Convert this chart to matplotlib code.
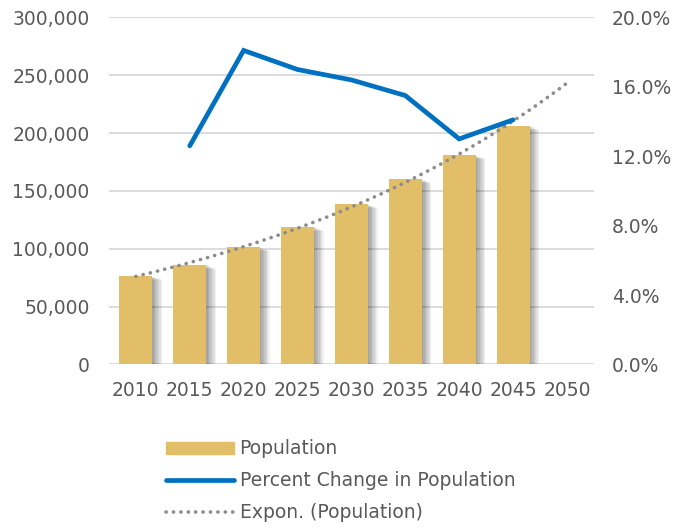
import numpy as np
import matplotlib.pyplot as plt
import matplotlib.patheffects as pe
from matplotlib.patches import Patch
from matplotlib.ticker import FuncFormatter

years = ['2010', '2015', '2020', '2025', '2030', '2035', '2040', '2045', '2050']
population = [76400, 86200, 101500, 119000, 138700, 160300, 181000, 206400]
pct_change = [None, 12.6, 18.1, 17.0, 16.4, 15.5, 13.0, 14.1]

BAR_COLOR = '#E3BE69'
LINE_COLOR = '#0070C0'
TREND_COLOR = '#8C8C8C'
TEXT_COLOR = '#595959'
GRID_COLOR = '#D9D9D9'

plt.rcParams['font.family'] = ['DejaVu Sans']
plt.rcParams['font.size'] = 13

fig = plt.figure(figsize=(6.85, 5.29), dpi=100)
ax = fig.add_axes([0.159, 0.311, 0.708, 0.656])
ax2 = ax.twinx()

x = np.arange(len(years))
xb = x[:len(population)]

# soft shadow on the bars
shadow = [pe.SimplePatchShadow(offset=(d, -d * 0.4), shadow_rgbFace='black', alpha=0.06)
          for d in (1, 2, 3, 4, 5, 6, 7)]
ax.bar(xb, population, width=0.61, color=BAR_COLOR, zorder=2,
       path_effects=shadow + [pe.Normal()])

# exponential trendline, forward one period
coef = np.polyfit(xb, np.log(population), 1)
xt = np.linspace(0, len(years) - 1, 200)
trend, = ax.plot(xt, np.exp(np.polyval(coef, xt)), color=TREND_COLOR, lw=2.6,
                 linestyle=(0, (0.05, 2.0)), dash_capstyle='round', zorder=4)

pc_x = [i for i, v in enumerate(pct_change) if v is not None]
pc_y = [v for v in pct_change if v is not None]
pline, = ax2.plot(pc_x, pc_y, color=LINE_COLOR, lw=3.4, solid_capstyle='round',
                  solid_joinstyle='miter', zorder=5)

ax.set_xlim(-0.5, len(years) - 0.5)
ax.set_ylim(0, 300000)
ax.set_yticks(np.arange(0, 300001, 50000))
ax.yaxis.set_major_formatter(FuncFormatter(lambda v, p: f'{int(v):,}'))
ax2.set_ylim(0, 20)
ax2.set_yticks(np.arange(0, 20.1, 4))
ax2.yaxis.set_major_formatter(FuncFormatter(lambda v, p: f'{v:.1f}%'))
ax.set_xticks(x)
ax.set_xticklabels(years)

ax.grid(axis='y', color=GRID_COLOR, lw=1.3, zorder=0)
ax.set_axisbelow(True)
for a in (ax, ax2):
    for s in a.spines.values():
        s.set_visible(False)
    a.tick_params(length=0, colors=TEXT_COLOR, labelsize=13.5)
ax.tick_params(axis='y', pad=14)
ax2.tick_params(axis='y', pad=13)
ax.tick_params(axis='x', pad=12)
ax.set_zorder(ax2.get_zorder() - 1)
ax2.patch.set_visible(False)
ax.patch.set_visible(False)

handles = [Patch(color=BAR_COLOR), pline, trend]
labels = ['Population', 'Percent Change in Population', 'Expon. (Population)']
leg = fig.legend(handles, labels, loc='upper left', bbox_to_anchor=(0.232, 0.184),
                 frameon=False, fontsize=13.5, handlelength=3.6, handleheight=0.6,
                 handletextpad=0.3, labelspacing=0.7, borderaxespad=0)
for t in leg.get_texts():
    t.set_color(TEXT_COLOR)

fig.savefig('out.png', dpi=100)
